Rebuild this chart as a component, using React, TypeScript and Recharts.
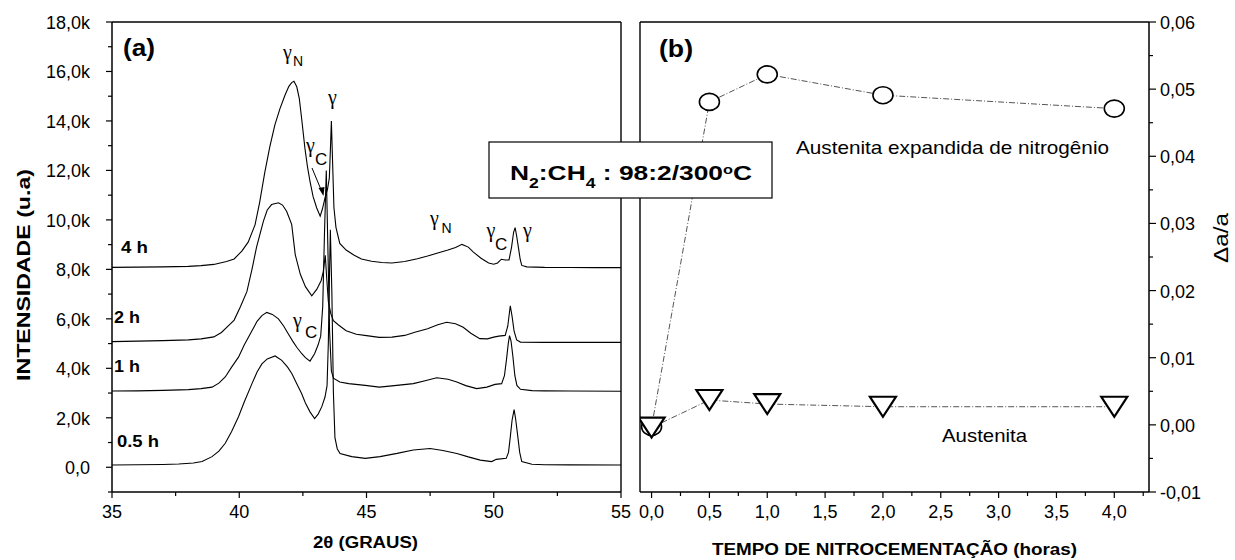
import React from 'react'
import { LineChart, Line, XAxis, YAxis, ReferenceLine } from 'recharts'

const FONT = "'Liberation Sans', Arial, Helvetica, sans-serif"
const SERIF = "'Liberation Serif', 'Times New Roman', serif"

// (a) XRD patterns, [2theta, intensity]
const XRD_4H: [number, number][] = [
  [35, 8080], [36, 8090], [37, 8100], [38, 8120], [38.5, 8150], [39, 8200], [39.5, 8320], [39.8, 8420],
  [40.1, 8740], [40.35, 9100], [40.62, 9800], [40.8, 10700], [41.0, 11900], [41.2, 12950], [41.4, 13840],
  [41.6, 14500], [41.8, 15050], [41.95, 15400], [42.06, 15550], [42.15, 15600], [42.26, 15380],
  [42.36, 14900], [42.45, 14110], [42.58, 12900], [42.68, 12150], [42.78, 11560], [42.9, 10950],
  [43.04, 10490], [43.18, 10150], [43.27, 10450], [43.37, 10890], [43.47, 11250], [43.54, 11700],
  [43.58, 12800], [43.62, 14000], [43.66, 12600], [43.72, 10500], [43.8, 9700], [43.95, 9050],
  [44.2, 8780], [44.5, 8580], [44.8, 8420], [45.2, 8330], [45.6, 8280], [46.0, 8260], [46.5, 8320],
  [47.0, 8430], [47.4, 8540], [47.8, 8660], [48.2, 8780], [48.5, 8880], [48.75, 9010], [49.0, 8900],
  [49.2, 8700], [49.5, 8450], [49.8, 8260], [50.0, 8210], [50.15, 8260], [50.3, 8410], [50.45, 8380],
  [50.6, 8380], [50.7, 8900], [50.78, 9500], [50.84, 9690], [50.9, 9350], [50.97, 8880], [51.04, 8400],
  [51.1, 8160], [51.3, 8100], [52, 8080], [53, 8075], [54, 8070], [55, 8070],
]

const XRD_2H: [number, number][] = [
  [35, 5080], [36, 5100], [37, 5120], [38, 5150], [38.5, 5190], [39, 5270], [39.3, 5450], [39.6, 5750],
  [39.8, 5950], [40.05, 6500], [40.3, 7100], [40.5, 8000], [40.68, 8900], [40.95, 9950], [41.1, 10400],
  [41.27, 10620], [41.54, 10690], [41.7, 10600], [41.86, 10350], [42.06, 9820], [42.2, 8600], [42.4, 7800],
  [42.6, 7300], [42.85, 6930], [43.05, 7200], [43.22, 7550], [43.3, 7900], [43.38, 8570], [43.44, 7600],
  [43.5, 6700], [43.6, 6200], [43.7, 5930], [43.9, 5750], [44.2, 5520], [44.6, 5380], [45.0, 5320],
  [45.5, 5250], [46.0, 5260], [46.5, 5330], [46.9, 5460], [47.4, 5600], [47.8, 5760], [48.15, 5860],
  [48.5, 5800], [48.8, 5660], [49.1, 5420], [49.45, 5200], [49.75, 5190], [50.0, 5260], [50.2, 5300],
  [50.45, 5330], [50.55, 5700], [50.65, 6530], [50.72, 6100], [50.8, 5500], [50.9, 5150], [51.05, 5060],
  [52, 5050], [53, 5050], [55, 5050],
]

const XRD_1H: [number, number][] = [
  [35, 3080], [36, 3090], [37, 3110], [38, 3140], [38.5, 3180], [38.93, 3240], [39.2, 3400], [39.45, 3650],
  [39.7, 4050], [39.97, 4450], [40.2, 4950], [40.5, 5520], [40.7, 5900], [40.89, 6130], [41.08, 6260],
  [41.3, 6180], [41.54, 6000], [41.75, 5700], [41.93, 5390], [42.1, 5100], [42.26, 4850], [42.45, 4600],
  [42.6, 4430], [42.78, 4290], [42.96, 4590], [43.1, 4950], [43.2, 5300], [43.28, 6500], [43.35, 9500],
  [43.42, 12000], [43.48, 9000], [43.55, 5500], [43.62, 3900], [43.7, 3600], [43.95, 3450], [44.3, 3380],
  [44.95, 3310], [45.5, 3240], [46.0, 3290], [46.84, 3380], [47.3, 3500], [47.76, 3620], [48.2, 3560],
  [48.55, 3450], [48.9, 3300], [49.33, 3180], [49.73, 3240], [50.05, 3350], [50.31, 3380], [50.42, 3700],
  [50.5, 4350], [50.57, 5000], [50.62, 5320], [50.68, 5100], [50.75, 4500], [50.83, 3700], [50.91, 3310],
  [51.05, 3150], [51.5, 3100], [52, 3090], [53, 3080], [55, 3070],
]

const XRD_05H: [number, number][] = [
  [35, 90], [36, 100], [37, 110], [37.62, 130], [38.2, 170], [38.54, 230], [38.93, 430], [39.2, 650],
  [39.45, 970], [39.7, 1450], [39.97, 2040], [40.2, 2650], [40.5, 3380], [40.7, 3850], [40.89, 4180],
  [41.1, 4380], [41.41, 4500], [41.67, 4320], [41.9, 4050], [42.07, 3780], [42.25, 3400], [42.45, 2980],
  [42.6, 2600], [42.78, 2240], [42.96, 1970], [43.1, 2150], [43.24, 2440], [43.37, 2840], [43.45, 3300],
  [43.5, 5000], [43.55, 8000], [43.58, 9600], [43.64, 7000], [43.7, 3000], [43.76, 1200], [43.85, 750],
  [43.96, 560], [44.42, 430], [44.95, 360], [45.53, 430], [46.2, 560], [46.84, 700], [47.5, 760],
  [48.0, 680], [48.55, 560], [49.0, 420], [49.47, 290], [49.92, 230], [50.1, 320], [50.49, 360],
  [50.58, 600], [50.65, 1230], [50.72, 1900], [50.8, 2330], [50.86, 1950], [50.93, 1370], [51.02, 600],
  [51.1, 230], [51.5, 120], [52, 100], [53, 95], [55, 90],
]

const CURVE_LABELS = ['4 h', '2 h', '1 h', '0.5 h']

const TWO_THETA_TICKS = [35, 37.5, 40, 42.5, 45, 47.5, 50, 52.5, 55]
const TWO_THETA_LABELS = [35, 40, 45, 50, 55]
const INTENSITY_TICKS = [-1000, 0, 1000, 2000, 3000, 4000, 5000, 6000, 7000, 8000, 9000, 10000, 11000, 12000, 13000, 14000, 15000, 16000, 17000, 18000]

// (b) lattice expansion vs. treatment time
const TIMES = [0, 0.5, 1, 2, 4]
const EXPANDED_N = [-0.0003, 0.0481, 0.0522, 0.0491, 0.0471]
const AUSTENITE = [-0.0004, 0.0037, 0.0031, 0.0027, 0.0027]

const TIME_TICKS = [0, 0.25, 0.5, 0.75, 1, 1.25, 1.5, 1.75, 2, 2.25, 2.5, 2.75, 3, 3.25, 3.5, 3.75, 4, 4.25]
const DA_TICKS = [-0.01, -0.005, 0, 0.005, 0.01, 0.015, 0.02, 0.025, 0.03, 0.035, 0.04, 0.045, 0.05, 0.055, 0.06]

const toPts = (arr: [number, number][]) => arr.map(([x, y]) => ({ x, y }))
const CURVES = [XRD_4H, XRD_2H, XRD_1H, XRD_05H].map(toPts)
const expandedData = TIMES.map((t, i) => ({ t, v: EXPANDED_N[i] }))
const austeniteData = TIMES.map((t, i) => ({ t, v: AUSTENITE[i] }))

const TICK_FONT = 18

function TwoThetaTick({ x, y, payload }: any) {
  const v = payload.value
  const major = TWO_THETA_LABELS.includes(v)
  return (
    <g>
      <line x1={x} x2={x} y1={y} y2={y + (major ? 6 : 4)} stroke="#000" strokeWidth={1.2} />
      {major && (
        <text x={x} y={y + 26} textAnchor="middle" fontSize={TICK_FONT} fontFamily={FONT} fill="#000">
          {v}
        </text>
      )}
    </g>
  )
}

function IntensityTick({ x, y, payload }: any) {
  const v = payload.value
  const major = v >= 0 && v % 2000 === 0
  const label = v === 0 ? '0,0' : (v / 1000).toFixed(1).replace('.', ',') + 'k'
  return (
    <g>
      <line x1={x - (major ? 6 : 4)} x2={x} y1={y} y2={y} stroke="#000" strokeWidth={1.2} />
      {major && (
        <text x={x - 22} y={y + 7} textAnchor="end" fontSize={TICK_FONT} fontFamily={FONT} fill="#000">
          {label}
        </text>
      )}
    </g>
  )
}

function TimeTick({ x, y, payload }: any) {
  const v = payload.value
  const major = Math.abs(v * 2 - Math.round(v * 2)) < 1e-6 && v <= 4
  return (
    <g>
      <line x1={x} x2={x} y1={y} y2={y + (major ? 6 : 4)} stroke="#000" strokeWidth={1.2} />
      {major && (
        <text x={x} y={y + 26} textAnchor="middle" fontSize={TICK_FONT} fontFamily={FONT} fill="#000">
          {v.toFixed(1).replace('.', ',')}
        </text>
      )}
    </g>
  )
}

function DeltaTick({ x, y, payload }: any) {
  const v = payload.value
  const major = Math.abs(v * 100 - Math.round(v * 100)) < 1e-6
  return (
    <g>
      <line x1={x} x2={x + (major ? 7 : 4)} y1={y} y2={y} stroke="#000" strokeWidth={1.2} />
      {major && (
        <text x={x + 11} y={y + 7} textAnchor="start" fontSize={TICK_FONT} fontFamily={FONT} fill="#000">
          {v.toFixed(2).replace('.', ',')}
        </text>
      )}
    </g>
  )
}

const CircleDot = (p: any) => (
  <ellipse key={`c${p.index}`} cx={p.cx} cy={p.cy} rx={10} ry={8.5} fill="#fff" stroke="#000" strokeWidth={1.6} />
)

const TriangleDot = (p: any) => (
  <path
    key={`t${p.index}`}
    d={`M${p.cx - 13},${p.cy - 10} L${p.cx + 13},${p.cy - 10} L${p.cx},${p.cy + 10} Z`}
    fill="#fff"
    stroke="#000"
    strokeWidth={2.2}
    strokeLinejoin="miter"
  />
)

function Gamma({ x, y, sub, sx, sy, ss = 15 }: { x: number; y: number; sub?: string; sx?: number; sy?: number; ss?: number }) {
  return (
    <g>
      <text x={x} y={y} fontSize={20} fontFamily={SERIF} fill="#000">γ</text>
      {sub && (
        <text x={sx} y={sy} fontSize={ss} fontFamily={FONT} fill="#000">{sub}</text>
      )}
    </g>
  )
}

export default function App() {
  const axisStyle = { stroke: '#000', strokeWidth: 1.5 }
  return (
    <div style={{ position: 'absolute', left: 0, top: 0, width: 1235, height: 560, background: '#fff', fontFamily: FONT }}>
      <div style={{ position: 'absolute', left: 0, top: 0 }}>
        <LineChart width={640} height={560} margin={{ top: 22, right: 19, bottom: 38, left: 52 }}>
          <XAxis
            type="number"
            dataKey="x"
            domain={[35, 55]}
            ticks={TWO_THETA_TICKS}
            interval={0}
            allowDataOverflow
            height={30}
            tickSize={0}
            tickMargin={0}
            tickLine={false}
            axisLine={axisStyle}
            tick={<TwoThetaTick />}
          />
          <YAxis
            type="number"
            domain={[-1000, 18000]}
            ticks={INTENSITY_TICKS}
            interval={0}
            allowDataOverflow
            width={60}
            tickSize={0}
            tickMargin={0}
            tickLine={false}
            axisLine={axisStyle}
            tick={<IntensityTick />}
          />
          <ReferenceLine y={18000} stroke="#000" strokeWidth={1.4} />
          <ReferenceLine x={55} stroke="#000" strokeWidth={1.4} />
          {CURVES.map((c, i) => (
            <Line
              key={CURVE_LABELS[i]}
              data={c}
              dataKey="y"
              type="linear"
              stroke="#000"
              strokeWidth={1.1}
              dot={false}
              activeDot={false}
              isAnimationActive={false}
            />
          ))}
        </LineChart>
      </div>

      <div style={{ position: 'absolute', left: 620, top: 0 }}>
        <LineChart width={615} height={560} margin={{ top: 22, right: 26, bottom: 38, left: 20 }}>
          <XAxis
            type="number"
            dataKey="t"
            domain={[-0.1, 4.3]}
            ticks={TIME_TICKS}
            interval={0}
            allowDataOverflow
            height={30}
            tickSize={0}
            tickMargin={0}
            tickLine={false}
            axisLine={axisStyle}
            tick={<TimeTick />}
          />
          <YAxis
            type="number"
            orientation="right"
            domain={[-0.01, 0.06]}
            ticks={DA_TICKS}
            interval={0}
            allowDataOverflow
            width={60}
            tickSize={0}
            tickMargin={0}
            tickLine={false}
            axisLine={axisStyle}
            tick={<DeltaTick />}
          />
          <ReferenceLine y={0.06} stroke="#000" strokeWidth={1.4} />
          <ReferenceLine x={-0.1} stroke="#000" strokeWidth={1.4} />
          <Line
            data={expandedData}
            dataKey="v"
            type="linear"
            stroke="#555"
            strokeWidth={1}
            strokeDasharray="6 2 1 2"
            dot={CircleDot}
            activeDot={false}
            isAnimationActive={false}
          />
          <Line
            data={austeniteData}
            dataKey="v"
            type="linear"
            stroke="#555"
            strokeWidth={1}
            strokeDasharray="6 2 1 2"
            dot={TriangleDot}
            activeDot={false}
            isAnimationActive={false}
          />
        </LineChart>
      </div>

      <svg width={1235} height={560} style={{ position: 'absolute', left: 0, top: 0, pointerEvents: 'none' }}>
        {/* panel (a) annotations */}
        <text x={123} y={55.5} fontSize={23} fontWeight="bold" fontFamily={FONT} textLength={32} lengthAdjust="spacingAndGlyphs">(a)</text>
        <Gamma x={283} y={59} sub="N" sx={293} sy={66} ss={14} />
        <Gamma x={328} y={104} />
        <Gamma x={306} y={152} sub="C" sx={315} sy={165} ss={17} />
        <line x1={312} y1={168} x2={322} y2={192} stroke="#000" strokeWidth={1} />
        <path d="M323.5,196 L318.5,188 L324.5,187 Z" fill="#000" />
        <Gamma x={293} y={327} sub="C" sx={305} sy={338} ss={17} />
        <Gamma x={430} y={225} sub="N" sx={441.5} sy={233} ss={14} />
        <Gamma x={486.5} y={237} sub="C" sx={495} sy={250} ss={17} />
        <Gamma x={523} y={237} />

        <text x={121} y={253} fontSize={16} fontWeight="bold" fontFamily={FONT} textLength={27} lengthAdjust="spacingAndGlyphs">{CURVE_LABELS[0]}</text>
        <text x={114} y={323} fontSize={16} fontWeight="bold" fontFamily={FONT} textLength={26} lengthAdjust="spacingAndGlyphs">{CURVE_LABELS[1]}</text>
        <text x={114} y={371.5} fontSize={16} fontWeight="bold" fontFamily={FONT} textLength={26} lengthAdjust="spacingAndGlyphs">{CURVE_LABELS[2]}</text>
        <text x={117} y={446.5} fontSize={16} fontWeight="bold" fontFamily={FONT} textLength={42} lengthAdjust="spacingAndGlyphs">{CURVE_LABELS[3]}</text>

        <text x={313} y={548} fontSize={16} fontWeight="bold" fontFamily={FONT} textLength={105} lengthAdjust="spacingAndGlyphs">2θ (GRAUS)</text>
        <text transform="translate(30,275) rotate(-90)" textAnchor="middle" fontSize={18} fontWeight="bold" fontFamily={FONT} textLength={212} lengthAdjust="spacingAndGlyphs">INTENSIDADE (u.a)</text>

        {/* panel (b) annotations */}
        <text x={659} y={57} fontSize={23} fontWeight="bold" fontFamily={FONT} textLength={34} lengthAdjust="spacingAndGlyphs">(b)</text>
        <text x={796} y={154} fontSize={18.5} fontFamily={FONT} textLength={313} lengthAdjust="spacingAndGlyphs">Austenita expandida de nitrogênio</text>
        <text x={942} y={441.5} fontSize={18.5} fontFamily={FONT} textLength={85} lengthAdjust="spacingAndGlyphs">Austenita</text>
        <text x={712} y={555} fontSize={16} fontWeight="bold" fontFamily={FONT} textLength={365} lengthAdjust="spacingAndGlyphs">TEMPO DE NITROCEMENTAÇÃO (horas)</text>
        <text transform="translate(1228,238) rotate(-90)" textAnchor="middle" fontSize={21} fontFamily={FONT} textLength={50} lengthAdjust="spacingAndGlyphs">Δa/a</text>

        {/* gas mixture box */}
        <rect x={489} y={142} width={283} height={56} fill="#fff" stroke="#000" strokeWidth={1.2} />
        <text x={510} y={180} fontSize={21} fontWeight="bold" fontFamily={FONT} textLength={242} lengthAdjust="spacingAndGlyphs">
          N<tspan fontSize={14} dy={8}>2</tspan>
          <tspan dy={-8}>:CH</tspan>
          <tspan fontSize={14} dy={8}>4</tspan>
          <tspan dy={-8}> : 98:2/300</tspan>
          <tspan fontSize={13} dy={-6}>o</tspan>
          <tspan dy={6}>C</tspan>
        </text>
      </svg>
    </div>
  )
}
